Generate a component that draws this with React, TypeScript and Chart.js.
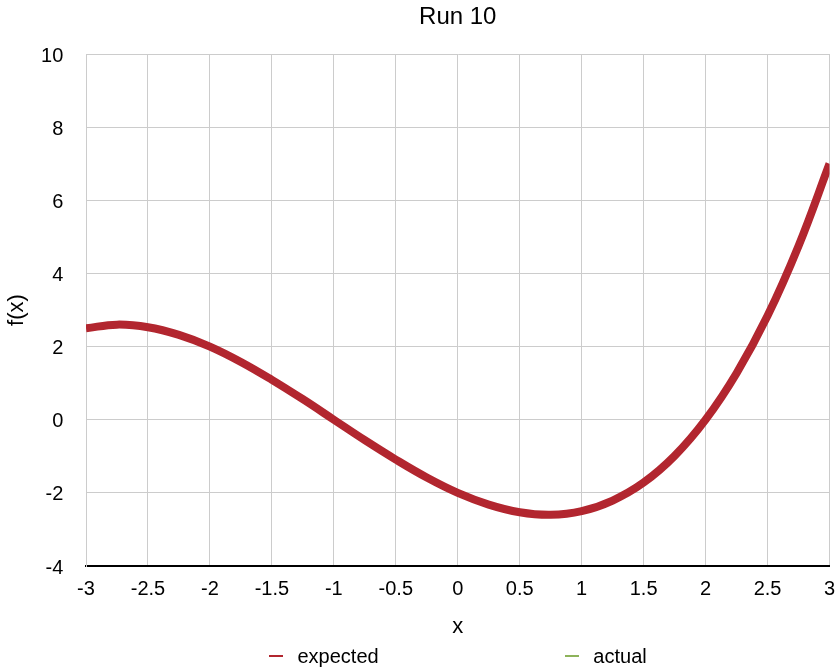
import React, { useEffect, useRef } from "react";
import { Chart, registerables } from "chart.js";

Chart.register(...registerables);

const titleText = "Run 10";
const xAxisTitle = "x";
const yAxisTitle = "f(x)";
const seriesLabels = ["expected", "actual"];
const seriesColors = ["#b2262f", "#8db35a"];

const xValues = [
  -3, -2.75, -2.5, -2.25, -2, -1.75, -1.5, -1.25, -1, -0.75, -0.5, -0.25, 0,
  0.25, 0.5, 0.75, 1, 1.25, 1.5, 1.75, 2, 2.25, 2.5, 2.75, 3,
];
const expectedValues = [
  2.5, 2.6, 2.53, 2.32, 2.0, 1.58, 1.09, 0.56, 0.0, -0.56, -1.09, -1.58, -2.0,
  -2.32, -2.53, -2.6, -2.5, -2.21, -1.72, -0.99, 0.0, 1.27, 2.84, 4.75, 7.0,
];
const actualValues: number[] = [];

const xTickValues = [-3, -2.5, -2, -1.5, -1, -0.5, 0, 0.5, 1, 1.5, 2, 2.5, 3];
const yTickValues = [-4, -2, 0, 2, 4, 6, 8, 10];

const FONT = "'Liberation Sans', Arial, Helvetica, sans-serif";

const bottomLegend = {
  id: "bottomLegend",
  afterDraw(chart: any) {
    const { ctx, chartArea } = chart;
    ctx.save();
    ctx.font = `20px ${FONT}`;
    ctx.textAlign = "left";
    ctx.textBaseline = "alphabetic";
    const marker = 14;
    const gapText = 14.7;
    const gapItems = 186;
    const items = chart.data.datasets.map((ds: any) => ({
      text: ds.label as string,
      color: ds.borderColor as string,
      w: marker + gapText + ctx.measureText(ds.label).width,
    }));
    const total =
      items.reduce((s: number, it: any) => s + it.w, 0) +
      gapItems * (items.length - 1);
    let x = (chartArea.left + chartArea.right) / 2 - total / 2;
    const baseY = chart.height - 7;
    for (const it of items) {
      ctx.fillStyle = it.color;
      ctx.fillRect(Math.round(x), chart.height - 15, marker, 2);
      ctx.fillStyle = "#000";
      ctx.fillText(it.text, x + marker + gapText, baseY);
      x += it.w + gapItems;
    }
    ctx.restore();
  },
};

export default function App() {
  const ref = useRef<HTMLCanvasElement | null>(null);

  useEffect(() => {
    if (!ref.current) return;
    Chart.defaults.font.family = FONT;
    const chart = new Chart(ref.current, {
      type: "line",
      data: {
        datasets: [
          {
            label: seriesLabels[0],
            data: xValues.map((x, i) => ({ x, y: expectedValues[i] })),
            borderColor: seriesColors[0],
            backgroundColor: seriesColors[0],
            borderWidth: 8,
            pointRadius: 0,
            tension: 0.4,
            fill: false,
          },
          {
            label: seriesLabels[1],
            data: actualValues.map((y, i) => ({ x: xValues[i], y })),
            borderColor: seriesColors[1],
            backgroundColor: seriesColors[1],
            borderWidth: 3,
            pointRadius: 0,
            tension: 0.4,
            fill: false,
          },
        ],
      },
      options: {
        animation: false,
        responsive: false,
        devicePixelRatio: 1,
        layout: { padding: { left: 0, right: 6.5, top: 0, bottom: 24 } },
        plugins: {
          legend: { display: false },
          tooltip: { enabled: false },
          title: {
            display: true,
            fullSize: false,
            text: titleText,
            color: "#000",
            font: { size: 24, weight: "normal", family: FONT },
            padding: { top: 3.3, bottom: 21.9 },
          },
        },
        scales: {
          x: {
            type: "linear",
            min: -3,
            max: 3,
            afterBuildTicks: (s: any) => {
              s.ticks = xTickValues.map((v) => ({ value: v }));
            },
            afterFit: (s: any) => {
              s.height = 80;
              s.paddingLeft = 0;
              s.paddingRight = 0;
            },
            ticks: {
              color: "#000",
              font: { size: 20, family: FONT },
              padding: 11,
              maxRotation: 0,
              autoSkip: false,
              callback: (v: any) => String(v),
            },
            grid: { color: "#cccccc", drawTicks: false, lineWidth: 1 },
            border: { color: "#000", width: 2 },
            title: {
              display: true,
              text: xAxisTitle,
              color: "#000",
              font: { size: 22, family: FONT },
              padding: { top: 0, bottom: 5.8 },
            },
          },
          y: {
            type: "linear",
            min: -4,
            max: 10,
            afterBuildTicks: (s: any) => {
              s.ticks = yTickValues.map((v) => ({ value: v }));
            },
            afterFit: (s: any) => {
              s.width = 86;
              s.paddingTop = 0;
              s.paddingBottom = 0;
            },
            ticks: {
              color: "#000",
              font: { size: 20, family: FONT },
              padding: 22.7,
              labelOffset: 2,
              autoSkip: false,
              callback: (v: any) => String(v),
            },
            grid: { color: "#cccccc", drawTicks: false, lineWidth: 1 },
            border: { color: "#cccccc", width: 1 },
            title: {
              display: true,
              text: yAxisTitle,
              color: "#000",
              font: { size: 22, family: FONT },
              padding: { top: 3.5, bottom: 0 },
            },
          },
        },
      },
      plugins: [bottomLegend],
    });
    return () => chart.destroy();
  }, []);

  return (
    <div
      style={{
        position: "fixed",
        left: 0,
        top: 0,
        width: 836,
        height: 670,
        background: "#fff",
      }}
    >
      <canvas ref={ref} width={836} height={670} />
    </div>
  );
}
